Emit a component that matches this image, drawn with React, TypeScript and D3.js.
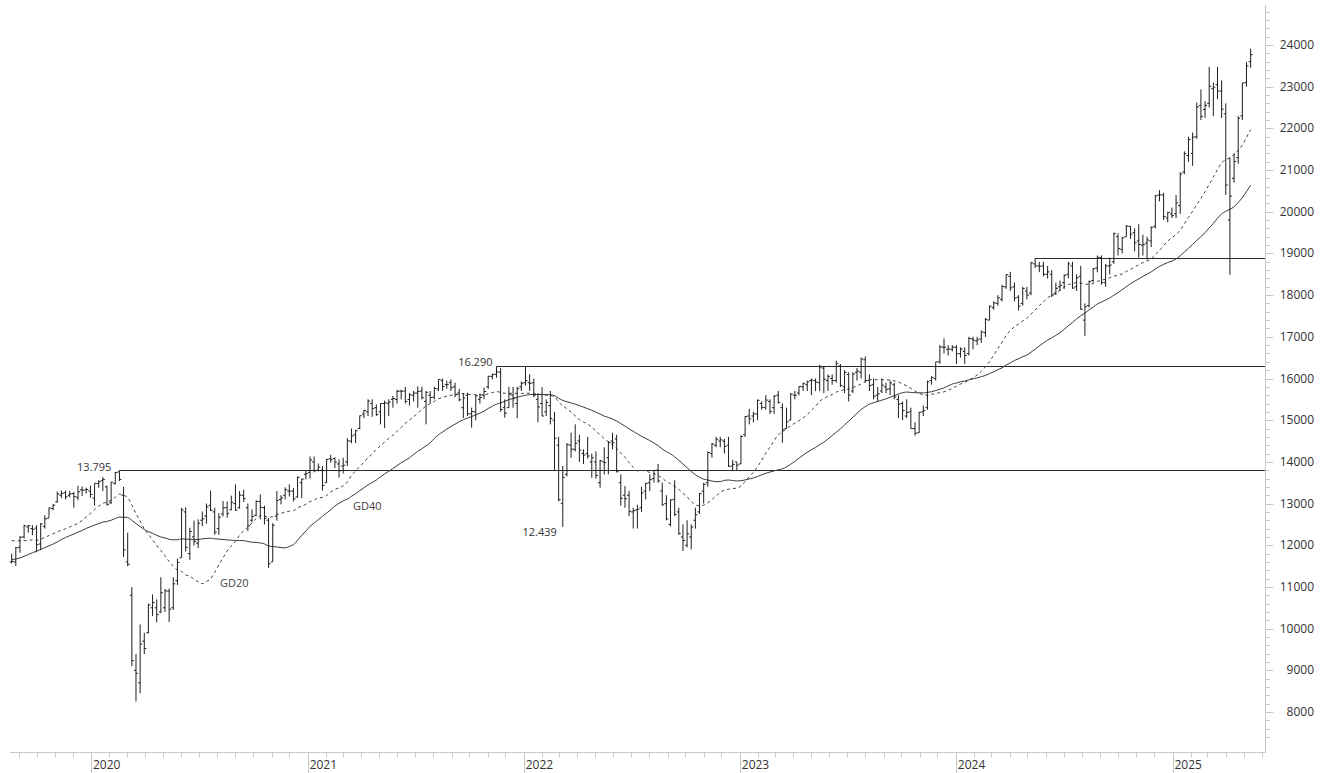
import React from 'react';
import * as d3 from 'd3';

// ---------- DATA ----------
const firstWeek = '2019-08-19';

// weekly closes before the first shown bar (needed for the moving averages)
const priorCloses = [
  11193, 11257, 10788, 10866, 10634, 10559, 10767,
  10888, 11205, 11282, 11181, 10907, 11300, 11457, 11602, 11458, 11686, 11364, 11526,
  12010, 11999, 12222, 12315, 12413, 12060, 12238, 12011, 11727, 12045, 12096, 12340,
  12399, 12568, 12323, 12260, 12419, 11872, 11694, 11562,
];

// [open, high, low, close]
const ohlc2019 = [
  [11600, 11800, 11560, 11612], [11600, 11960, 11500, 11939], [11950, 12220, 11820, 12191],
  [12200, 12490, 12160, 12469], [12440, 12490, 12300, 12468], [12400, 12480, 12240, 12381],
  [12410, 12480, 11830, 12013], [12030, 12530, 11880, 12511], [12450, 12720, 12400, 12633],
  [12650, 12900, 12660, 12894], [12880, 12990, 12840, 12961], [13040, 13290, 13020, 13228],
  [13200, 13310, 13130, 13241], [13260, 13310, 13100, 13163], [13200, 13300, 13150, 13236],
  [13240, 13280, 12900, 13166], [13150, 13425, 13080, 13282], [13330, 13410, 13180, 13318],
  [13330, 13380, 13240, 13337], [13300, 13430, 13140, 13219],
];
const ohlc2020 = [
  [13130, 13480, 12950, 13483], [13480, 13560, 13380, 13526], [13550, 13640, 13300, 13577],
  [13400, 13430, 12950, 12982], [13020, 13520, 12990, 13514], [13480, 13760, 13460, 13745],
  [13760, 13795, 13540, 13579], [13200, 13400, 11720, 11890], [11600, 12300, 11500, 11542],
  [10800, 11000, 9100, 9232], [9000, 9390, 8256, 8929], [8700, 10100, 8450, 9633],
  [9700, 9900, 9390, 9525], [9900, 10600, 9890, 10565], [10500, 10820, 10300, 10626],
  [10500, 10700, 10150, 10336], [10400, 11230, 10370, 10861], [10500, 10950, 10400, 10905],
  [10900, 10960, 10160, 10465], [10500, 11230, 10450, 11074], [11150, 11680, 11050, 11587],
  [11700, 12900, 11700, 12848], [12800, 12910, 11850, 11949], [11800, 12420, 11650, 12331],
  [12200, 12590, 11990, 12089], [12050, 12620, 11930, 12528], [12600, 12810, 12460, 12634],
  [12700, 13000, 12520, 12920], [12960, 13310, 12820, 12838], [12800, 12900, 12250, 12313],
  [12400, 12770, 12250, 12674], [12750, 13060, 12690, 12901], [12900, 13050, 12660, 12765],
  [12850, 13190, 12840, 13033], [13000, 13460, 12830, 12843], [12900, 13300, 12880, 13202],
  [13200, 13330, 13040, 13116], [12900, 13000, 12340, 12469], [12600, 12860, 12550, 12689],
  [12720, 13080, 12700, 13051], [13050, 13220, 12620, 12909], [12900, 12950, 12500, 12646],
  [12600, 12650, 11450, 11556], [11600, 12530, 11600, 12480], [12700, 13300, 12590, 13077],
  [13100, 13200, 12980, 13137], [13200, 13390, 13100, 13335], [13300, 13460, 13170, 13299],
  [13300, 13370, 13050, 13114], [13160, 13650, 13140, 13630], [13500, 13600, 13130, 13587],
  [13700, 13800, 13580, 13719],
];
const ohlc2021 = [
  [13750, 14130, 13600, 14049], [14000, 14130, 13750, 13787], [13800, 13960, 13770, 13874],
  [13800, 13900, 13310, 13433], [13500, 14070, 13500, 14057], [14080, 14170, 13980, 14050],
  [14080, 14110, 13850, 13993], [13950, 14060, 13620, 13786], [13900, 14100, 13720, 13920],
  [14000, 14570, 13900, 14502], [14500, 14800, 14450, 14621], [14650, 14770, 14450, 14748],
  [14800, 15110, 14780, 15107], [15150, 15250, 15050, 15234], [15200, 15500, 15100, 15460],
  [15400, 15500, 15080, 15280], [15300, 15380, 15100, 15136], [15200, 15400, 14900, 15400],
  [15400, 15470, 14810, 15417], [15400, 15500, 15100, 15437], [15500, 15580, 15300, 15520],
  [15500, 15730, 15400, 15693], [15700, 15730, 15500, 15693], [15700, 15800, 15400, 15448],
  [15500, 15650, 15350, 15607], [15600, 15700, 15450, 15650], [15650, 15810, 15300, 15688],
  [15700, 15800, 15500, 15540], [15450, 15700, 14900, 15669], [15600, 15700, 15400, 15544],
  [15550, 15800, 15500, 15761], [15750, 15980, 15700, 15977], [15950, 16000, 15700, 15808],
  [15850, 15950, 15750, 15852], [15900, 15980, 15700, 15781], [15800, 15900, 15550, 15609],
  [15650, 15750, 15450, 15490], [15300, 15650, 15050, 15532], [15600, 15660, 15100, 15156],
  [15150, 15300, 14820, 15207], [15200, 15600, 15000, 15587], [15500, 15640, 15400, 15543],
  [15600, 15780, 15500, 15689], [15800, 16060, 15750, 16054], [16050, 16120, 15980, 16094],
  [16100, 16290, 16020, 16160], [16150, 16250, 15200, 15257], [15300, 15500, 15060, 15170],
  [15300, 15800, 15300, 15623], [15600, 15800, 15300, 15532], [15400, 15800, 15050, 15756],
  [15800, 15930, 15700, 15885],
];
const ohlc2022 = [
  [15900, 16285, 15830, 15948], [15900, 16100, 15700, 15883], [15900, 16000, 15550, 15603],
  [15500, 15650, 14950, 15318], [15400, 15790, 15100, 15100], [15200, 15500, 15100, 15425],
  [15350, 15700, 14900, 15042], [15000, 15200, 13800, 14567], [14400, 14600, 13050, 13094],
  [13000, 13900, 12439, 13628], [13700, 14450, 13650, 14413], [14400, 14700, 14100, 14306],
  [14300, 14900, 14250, 14446], [14500, 14650, 14000, 14284], [14200, 14300, 13950, 14164],
  [14200, 14600, 14080, 14142], [14000, 14200, 13620, 14098], [14000, 14250, 13600, 13674],
  [13500, 14050, 13380, 14027], [14000, 14350, 13700, 13982], [14100, 14500, 13700, 14462],
  [14500, 14700, 14300, 14460], [14550, 14650, 13750, 13762], [13500, 13700, 12950, 13126],
  [13200, 13420, 12900, 13118], [13200, 13300, 12700, 12813], [12800, 12900, 12400, 12832],
  [12850, 12970, 12400, 12865], [12900, 13400, 12800, 13254], [13300, 13500, 13100, 13484],
  [13500, 13700, 13300, 13574], [13600, 13800, 13500, 13795], [13800, 13950, 13500, 13544],
  [13300, 13500, 12950, 12971], [13000, 13200, 12600, 12631], [12500, 13100, 12450, 13088],
  [13100, 13560, 12700, 12741], [12800, 12900, 12250, 12284], [12200, 12500, 11862, 12114],
  [12000, 12600, 11950, 12273], [12200, 12500, 11900, 12438], [12600, 12900, 12400, 12731],
  [12800, 13250, 12750, 13243], [13300, 13500, 13000, 13460], [13500, 14250, 13400, 14225],
  [14200, 14450, 14100, 14431], [14400, 14600, 14350, 14541], [14500, 14600, 14350, 14529],
  [14500, 14550, 14200, 14371], [14400, 14600, 13880, 13894], [13900, 14050, 13800, 13940],
  [14000, 14000, 13800, 13924],
];
const ohlc2023 = [
  [13950, 14640, 13950, 14610], [14650, 15100, 14600, 15087], [15100, 15270, 14900, 15033],
  [15100, 15200, 14950, 15150], [15150, 15500, 15000, 15476], [15400, 15450, 15250, 15308],
  [15300, 15600, 15250, 15482], [15450, 15500, 15150, 15210], [15300, 15600, 15150, 15578],
  [15600, 15700, 15400, 15428], [15300, 15400, 14458, 14768], [14800, 15300, 14800, 14957],
  [15000, 15650, 15000, 15629], [15600, 15700, 15500, 15598], [15650, 15810, 15600, 15808],
  [15800, 15900, 15700, 15882], [15850, 15950, 15700, 15922], [15950, 16000, 15600, 15961],
  [15950, 16000, 15700, 15914], [15900, 16331, 15700, 16275], [16250, 16300, 15650, 15983],
  [15950, 16100, 15700, 16051], [16000, 16100, 15850, 15950], [15950, 16427, 15900, 16358],
  [16300, 16350, 15800, 15830], [15800, 16200, 15650, 16148], [16100, 16150, 15450, 15603],
  [15700, 16150, 15650, 16105], [16150, 16250, 15950, 16177], [16150, 16500, 16000, 16469],
  [16450, 16530, 15900, 15952], [15950, 16100, 15700, 15832], [15850, 16000, 15500, 15575],
  [15600, 15800, 15450, 15632], [15700, 16000, 15650, 15840], [15800, 15900, 15650, 15740],
  [15750, 15950, 15600, 15894], [15850, 15900, 15500, 15557], [15500, 15600, 15050, 15387],
  [15400, 15450, 15000, 15229], [15100, 15500, 15050, 15187], [15200, 15300, 14800, 14798],
  [14800, 14950, 14630, 14687], [14700, 15200, 14700, 15189], [15200, 15350, 15100, 15234],
  [15300, 15950, 15250, 15919], [15950, 16050, 15850, 16029], [16000, 16400, 15950, 16397],
  [16400, 16800, 16350, 16759], [16750, 16960, 16600, 16751], [16700, 16800, 16550, 16706],
  [16700, 16800, 16650, 16752],
];
const ohlc2024 = [
  [16750, 16800, 16350, 16594], [16600, 16750, 16500, 16705], [16650, 16750, 16350, 16555],
  [16600, 17000, 16550, 16961], [16950, 17000, 16700, 16918], [16900, 17000, 16800, 16927],
  [16950, 17150, 16850, 17117], [17100, 17450, 17000, 17419], [17400, 17750, 17400, 17735],
  [17700, 17850, 17650, 17815], [17800, 18000, 17750, 17937], [17900, 18250, 17850, 18206],
  [18200, 18500, 18150, 18492], [18450, 18560, 18100, 18175], [18200, 18300, 17850, 17930],
  [17950, 18000, 17630, 17737], [17800, 18200, 17750, 18161], [18100, 18200, 17900, 18001],
  [18050, 18800, 18000, 18773], [18750, 18892, 18650, 18704], [18700, 18800, 18550, 18693],
  [18700, 18800, 18450, 18498], [18500, 18700, 18400, 18557], [18500, 18600, 17950, 18002],
  [18050, 18300, 18000, 18163], [18200, 18350, 18100, 18235], [18300, 18500, 18150, 18475],
  [18500, 18800, 18400, 18748], [18700, 18800, 18150, 18171], [18200, 18500, 18100, 18418],
  [18450, 18700, 17650, 17661], [17400, 17800, 17024, 17723], [17750, 18350, 17700, 18322],
  [18350, 18650, 18300, 18633], [18650, 18950, 18550, 18907], [18900, 18950, 18250, 18302],
  [18300, 18750, 18200, 18699], [18700, 18900, 18500, 18720], [18800, 19500, 18750, 19474],
  [19400, 19480, 18950, 19121], [19100, 19400, 19000, 19374], [19400, 19680, 19400, 19657],
  [19650, 19650, 19350, 19464], [19500, 19600, 19050, 19255], [19300, 19700, 18900, 19215],
  [19200, 19450, 18950, 19211], [19250, 19400, 18850, 19323], [19300, 19650, 19150, 19626],
  [19650, 20400, 19600, 20384], [20400, 20520, 20250, 20406], [20400, 20450, 19800, 19885],
  [19850, 20000, 19750, 19985], [19950, 20100, 19850, 19906],
];
const ohlc2025 = [
  [19950, 20400, 19850, 20214], [20150, 20950, 19950, 20903], [20950, 21450, 20900, 21394],
  [21350, 21800, 21200, 21732], [21400, 21900, 21100, 21787], [21800, 22620, 21750, 22513],
  [22550, 22935, 22200, 22287], [22450, 22650, 22250, 22551], [22600, 23475, 22500, 23009],
  [22950, 23100, 22300, 22987], [23050, 23476, 22700, 22892], [22900, 23150, 22250, 22461],
  [22350, 22600, 20400, 20641], [19800, 21300, 18489, 20374], [20800, 21400, 20700, 21205],
  [21300, 22300, 21150, 22242], [22300, 23100, 22200, 23086], [23100, 23600, 23000, 23499],
  [23600, 23911, 23450, 23767],
];

const levelValues = [13795, 16290, 18892];
const levelStartWeeks = [26, 117, 247];
const levelLabels = ['13.795', '16.290', ''];
const lowLabel = '12.439';
const lowWeek = 133;
const lowValue = 12439;
const maPeriods = [20, 40];
const maLabels = ['GD20', 'GD40'];
const yearTicks = [2020, 2021, 2022, 2023, 2024, 2025];
const yTickValues = [8000, 9000, 10000, 11000, 12000, 13000, 14000, 15000, 16000, 17000, 18000, 19000, 20000, 21000, 22000, 23000, 24000];

// ---------- CHART ----------
const W = 1320;
const H = 773;
const AXIS_X = 1265.5;
const AXIS_Y = 752.5;
const FONT = "'Open Sans', 'Noto Sans', sans-serif";

export default function App() {
  const bars = [...ohlc2019, ...ohlc2020, ...ohlc2021, ...ohlc2022, ...ohlc2023, ...ohlc2024, ...ohlc2025];
  const start = new Date(firstWeek + 'T00:00:00Z');
  const dateOf = (i: number) => d3.utcDay.offset(start, i * 7 + 1);

  const x = d3.scaleUtc()
    .domain([new Date(Date.UTC(2020, 0, 1)), new Date(Date.UTC(2025, 0, 1))])
    .range([91, 1172.5]);
  const y = d3.scaleLinear().domain([8000, 24000]).range([712, 45]);

  const closes = bars.map((b) => b[3]);
  const all = [...priorCloses, ...closes];
  const off = priorCloses.length;
  const mas = maPeriods.map((n) =>
    closes.map((_, i) => {
      const j = i + off;
      return d3.mean(all.slice(j - n + 1, j + 1)) as number;
    })
  );
  const line = d3.line<number>().x((_, i) => x(dateOf(i))).y((v) => y(v)).curve(d3.curveMonotoneX);

  const months = d3.utcMonth.range(new Date(Date.UTC(2019, 7, 1)), new Date(Date.UTC(2025, 6, 1)))
    .filter((d) => x(d) > 10 && x(d) < AXIS_X - 1);

  const minorY = d3.range(7400, 24801, 200);

  return (
    <svg width={W} height={H} style={{ position: 'absolute', left: 0, top: 0, background: '#fff' }} fontFamily={FONT}>
      <rect x={0} y={0} width={W} height={H} fill="#fff" />
      {/* level lines */}
      {levelValues.map((v, k) => (
        <line key={'lv' + k} x1={x(dateOf(levelStartWeeks[k]))} x2={AXIS_X} y1={Math.round(y(v)) + 0.5} y2={Math.round(y(v)) + 0.5} stroke="#2a2a2a" strokeWidth={1} />
      ))}
      {/* moving averages */}
      <path d={line(mas[0]) || ''} fill="none" stroke="#444" strokeWidth={1} strokeDasharray="3,3" />
      <path d={line(mas[1]) || ''} fill="none" stroke="#3a3a3a" strokeWidth={1} />
      {/* OHLC bars */}
      {bars.map((b, i) => {
        const cx = x(dateOf(i));
        return (
          <g key={'b' + i} stroke="#1e1e1e" strokeWidth={1}>
            <line x1={cx} x2={cx} y1={y(b[1])} y2={y(b[2])} />
            <line x1={cx - 2} x2={cx} y1={y(b[0])} y2={y(b[0])} />
            <line x1={cx} x2={cx + 2} y1={y(b[3])} y2={y(b[3])} />
          </g>
        );
      })}
      {/* annotations */}
      <text x={x(dateOf(levelStartWeeks[0])) - 8} y={y(levelValues[0]) + 1} textAnchor="end" fontSize={11} fill="#333">{levelLabels[0]}</text>
      <text x={x(dateOf(levelStartWeeks[1])) - 4} y={y(levelValues[1])} textAnchor="end" fontSize={11} fill="#333">{levelLabels[1]}</text>
      <text x={x(dateOf(lowWeek)) - 6} y={y(lowValue) + 9.5} textAnchor="end" fontSize={11} fill="#333">{lowLabel}</text>
      <text x={220} y={587} fontSize={11} fill="#444">{maLabels[0]}</text>
      <text x={353} y={510} fontSize={11} fill="#444">{maLabels[1]}</text>

      {/* right axis */}
      <line x1={AXIS_X} x2={AXIS_X} y1={5} y2={AXIS_Y} stroke="#c8c8c8" />
      {minorY.map((v) => (
        <line key={'my' + v} x1={AXIS_X} x2={AXIS_X + (v % 1000 === 0 ? 8 : 4)} y1={Math.round(y(v)) + 0.5} y2={Math.round(y(v)) + 0.5} stroke="#c8c8c8" />
      ))}
      {yTickValues.map((v) => (
        <text key={'yl' + v} x={1314} y={y(v) + 4} textAnchor="end" fontSize={12} fill="#333">{v}</text>
      ))}

      {/* bottom axis */}
      <line x1={10} x2={AXIS_X} y1={AXIS_Y} y2={AXIS_Y} stroke="#c8c8c8" />
      {months.map((d, k) => {
        const isYear = d.getUTCMonth() === 0;
        const mx = Math.round(x(d)) + 0.5;
        return <line key={'m' + k} x1={mx} x2={mx} y1={AXIS_Y} y2={isYear ? H : AXIS_Y + 5} stroke="#c8c8c8" />;
      })}
      {yearTicks.map((yr) => (
        <text key={'yr' + yr} x={x(new Date(Date.UTC(yr, 0, 1))) + 2} y={769} fontSize={12} fill="#333">{yr}</text>
      ))}
    </svg>
  );
}
